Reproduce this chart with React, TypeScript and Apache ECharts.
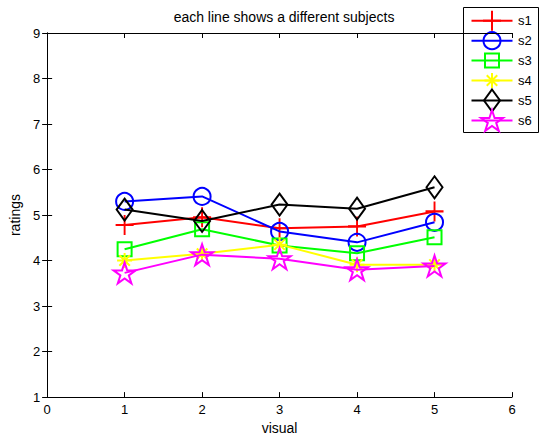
import React, { useEffect, useRef } from "react";
import * as echarts from "echarts";

const categories = [1, 2, 3, 4, 5];
const seriesNames = ["s1", "s2", "s3", "s4", "s5", "s6"];
const s1 = [4.78, 4.95, 4.71, 4.75, 5.08];
const s2 = [5.3, 5.41, 4.64, 4.4, 4.84];
const s3 = [4.25, 4.69, 4.33, 4.16, 4.51];
const s4 = [4.0, 4.15, 4.35, 3.91, 3.91];
const s5 = [5.12, 4.87, 5.23, 5.14, 5.61];
const s6 = [3.73, 4.13, 4.04, 3.8, 3.88];
const xTicks = [0, 1, 2, 3, 4, 5, 6];
const yTicks = [1, 2, 3, 4, 5, 6, 7, 8, 9];

const FONT = "Liberation Sans";

const PLUS = "path://M5,0L5,10M0,5L10,5";
const STAR_ASTERISK =
  "path://M0,5L10,5M5,0L5,10M1.5,1.5L8.5,8.5M1.5,8.5L8.5,1.5";
const DIAMOND = "path://M8,0L16,11L8,22L0,11Z";
const STAR_PTS: number[][] = [
  [50, 0], [61.2, 34.55], [97.55, 34.55], [68.2, 55.9], [79.4, 90.45],
  [50, 69.1], [20.6, 90.45], [31.8, 55.9], [2.45, 34.55], [38.8, 34.55],
];
const PENTAGRAM =
  "path://" +
  STAR_PTS.map((p, i) => (i === 0 ? "M" : "L") + p[0] + "," + p[1]).join("") +
  "Z";

const styles = [
  { color: "#ff0000", symbol: PLUS, size: [18, 20] as any, keep: false },
  { color: "#0000ff", symbol: "circle", size: 17, keep: true },
  { color: "#00ff00", symbol: "rect", size: 14, keep: true },
  { color: "#ffff00", symbol: STAR_ASTERISK, size: 15, keep: true },
  { color: "#000000", symbol: DIAMOND, size: [16, 22] as any, keep: false },
  { color: "#ff00ff", symbol: PENTAGRAM, size: 22, keep: true },
];

function legendMarker(i: number, cx: number, cy: number): any[] {
  const c = styles[i].color;
  const st = { stroke: c, lineWidth: 2, fill: "none" };
  const ln = (x1: number, y1: number, x2: number, y2: number) => ({
    type: "line",
    shape: { x1: cx + x1, y1: cy + y1, x2: cx + x2, y2: cy + y2 },
    style: st,
  });
  switch (i) {
    case 0:
      return [ln(-9, 0, 9, 0), ln(0, -10, 0, 10)];
    case 1:
      return [{ type: "circle", shape: { cx, cy, r: 8.5 }, style: st }];
    case 2:
      return [{ type: "rect", shape: { x: cx - 7, y: cy - 7, width: 14, height: 14 }, style: st }];
    case 3:
      return [
        ln(-7.5, 0, 7.5, 0),
        ln(0, -7.5, 0, 7.5),
        ln(-5.25, -5.25, 5.25, 5.25),
        ln(-5.25, 5.25, 5.25, -5.25),
      ];
    case 4:
      return [
        {
          type: "polygon",
          shape: { points: [[cx, cy - 11], [cx + 8, cy], [cx, cy + 11], [cx - 8, cy]] },
          style: st,
        },
      ];
    default: {
      const k = 22 / 95.1;
      return [
        {
          type: "polygon",
          shape: {
            points: STAR_PTS.map((p) => [cx + (p[0] - 50) * k, cy + (p[1] - 45.2) * k]),
          },
          style: st,
        },
      ];
    }
  }
}

export default function App() {
  const ref = useRef<HTMLDivElement>(null);
  useEffect(() => {
    if (!ref.current) return;
    const chart = echarts.init(ref.current, undefined, { renderer: "svg" });
    const data = [s1, s2, s3, s4, s5, s6];
    const axisCommon = {
      type: "value" as const,
      axisLine: { show: true, lineStyle: { color: "#000", width: 1 } },
      axisTick: { show: true, inside: true, length: 5, lineStyle: { color: "#000" } },
      splitLine: { show: false },
    };

    const legendEls: any[] = [
      {
        type: "rect",
        shape: { x: 463.5, y: 7.5, width: 75, height: 125 },
        style: { fill: "#fff", stroke: "#000", lineWidth: 1 },
      },
    ];
    seriesNames.forEach((name, i) => {
      const cy = 20.7 + i * 19.95;
      legendEls.push({
        type: "line",
        shape: { x1: 471.5, y1: cy, x2: 512.5, y2: cy },
        style: { stroke: styles[i].color, lineWidth: 2 },
      });
      legendEls.push(...legendMarker(i, 492, cy));
      legendEls.push({
        type: "text",
        x: 518,
        y: cy,
        style: {
          text: name,
          fill: "#000",
          font: `13px "${FONT}"`,
          textAlign: "left",
          textVerticalAlign: "middle",
        },
      });
    });

    chart.setOption({
      animation: false,
      backgroundColor: "#fff",
      textStyle: { fontFamily: FONT },
      title: {
        text: "each line shows a different subjects",
        left: 279,
        textAlign: "center",
        top: 5,
        textStyle: { fontFamily: FONT, fontSize: 14, fontWeight: "normal", color: "#000" },
      },
      grid: { left: 45, right: 28, top: 33, bottom: 39, containLabel: false },
      xAxis: [
        {
          ...axisCommon,
          position: "bottom",
          min: 0,
          max: 6,
          interval: 1,
          name: "visual",
          nameLocation: "middle",
          nameGap: 23,
          nameTextStyle: { fontFamily: FONT, fontSize: 14, color: "#000" },
          axisLabel: {
            color: "#000",
            fontSize: 13,
            fontFamily: FONT,
            margin: 6,
            formatter: (v: number) => (xTicks.includes(v) ? String(v) : ""),
          },
        },
        {
          ...axisCommon,
          position: "top",
          min: 0,
          max: 6,
          interval: 1,
          axisLabel: { show: false },
        },
      ],
      yAxis: [
        {
          ...axisCommon,
          position: "left",
          min: 1,
          max: 9,
          interval: 1,
          name: "ratings",
          nameLocation: "middle",
          nameGap: 23,
          nameTextStyle: { fontFamily: FONT, fontSize: 14, color: "#000" },
          axisLabel: {
            color: "#000",
            fontSize: 13,
            fontFamily: FONT,
            margin: 7,
            formatter: (v: number) => (yTicks.includes(v) ? String(v) : ""),
          },
        },
        {
          ...axisCommon,
          position: "right",
          min: 1,
          max: 9,
          interval: 1,
          axisLabel: { show: false },
        },
      ],
      graphic: [{ type: "group", z: 100, children: legendEls }],
      series: seriesNames.map((name, i) => ({
        name,
        type: "line",
        xAxisIndex: 0,
        yAxisIndex: 0,
        data: categories.map((c, j) => [c, data[i][j]]),
        symbol: styles[i].symbol,
        symbolSize: styles[i].size,
        symbolKeepAspect: styles[i].keep,
        showAllSymbol: true,
        lineStyle: { color: styles[i].color, width: 2 },
        itemStyle: {
          color: "rgba(0,0,0,0)",
          borderColor: styles[i].color,
          borderWidth: 2,
        },
        emphasis: { disabled: true },
        z: 2 + i,
      })),
    });
    return () => chart.dispose();
  }, []);
  return (
    <div
      ref={ref}
      style={{ position: "absolute", left: 0, top: 0, width: 540, height: 440 }}
    />
  );
}
